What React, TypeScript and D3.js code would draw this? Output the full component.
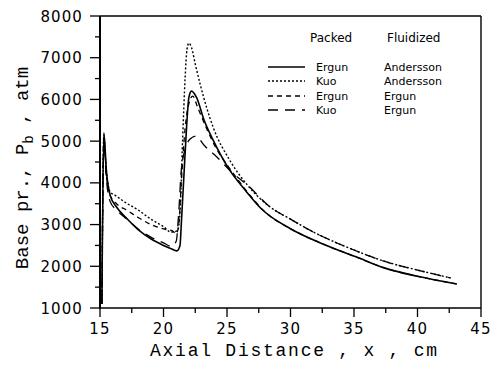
import React from "react";
import * as d3 from "d3";

// values: [axial distance (cm), base pressure (atm)]
const ergunAndersson: [number, number][] = [
  [15.15, 1100], [15.3, 5200], [15.5, 4300], [15.8, 3700], [16.3, 3420], [17, 3180],
  [18, 2880], [19, 2660], [20, 2500], [20.6, 2420], [21.05, 2370], [21.3, 2500],
  [21.4, 3000], [21.7, 4700], [22.0, 6050], [22.2, 6200], [22.6, 6050], [23.2, 5500],
  [23.9, 5030], [25.2, 4310], [26.5, 3800], [27.7, 3380], [30, 2900], [32.5, 2540],
  [35.2, 2220], [37.5, 1950], [40, 1760], [43.1, 1575],
];
const kuoAndersson: [number, number][] = [
  [15.15, 1100], [15.3, 5150], [15.5, 4300], [15.8, 3780], [16.2, 3700], [17, 3530],
  [18, 3350], [19, 3130], [20, 2950], [20.6, 2820], [21.1, 2850], [21.3, 3300],
  [21.5, 5000], [21.7, 6500], [21.85, 7200], [22.0, 7350], [22.2, 7250], [22.5, 6850],
  [22.9, 6350], [23.9, 5340], [25.2, 4550], [26.6, 3950], [28.4, 3420], [30, 3130],
  [31.5, 2870], [35, 2390], [37.5, 2110], [40, 1910], [42.6, 1720],
];
const ergunErgun: [number, number][] = [
  [15.15, 1100], [15.3, 5100], [15.5, 4200], [15.8, 3700], [16.3, 3500], [17.2, 3330],
  [18, 3170], [19.1, 2990], [20.2, 2880], [20.7, 2850], [21.0, 2780], [21.2, 3000],
  [21.4, 4000], [21.7, 5300], [22.0, 5900], [22.3, 6080], [22.7, 5800], [23.4, 5300],
  [24.2, 4800], [25.2, 4350], [26.5, 3820], [28, 3300], [30, 2900], [32.5, 2540],
  [35.2, 2220], [37.5, 1950], [40, 1760], [43.1, 1575],
];
const kuoErgun: [number, number][] = [
  [15.15, 1100], [15.3, 5000], [15.5, 4100], [15.8, 3550], [16.3, 3350], [17.2, 3110],
  [18.1, 2870], [19, 2700], [20, 2560], [20.6, 2480], [21.0, 2600], [21.2, 3300],
  [21.4, 4300], [21.7, 4800], [22.1, 5050], [22.55, 5120], [23.2, 4900], [24.2, 4620],
  [25.4, 4250], [26.6, 3950], [28.4, 3420], [30, 3130], [31.5, 2870], [35, 2390],
  [37.5, 2110], [40, 1910], [42.6, 1720],
];

const packedLabels = ["Ergun", "Kuo", "Ergun", "Kuo"];
const fluidizedLabels = ["Andersson", "Andersson", "Ergun", "Ergun"];
const xTicks = [15, 20, 25, 30, 35, 40, 45];
const yTicks = [1000, 2000, 3000, 4000, 5000, 6000, 7000, 8000];

const series = [
  { data: ergunAndersson, dash: "none", w: 1.6 },
  { data: kuoAndersson, dash: "2,2", w: 1.4 },
  { data: ergunErgun, dash: "5,4", w: 1.3 },
  { data: kuoErgun, dash: "10,7", w: 1.3 },
];

const W = 497;
const H = 366;
const m = { left: 100, right: 481, top: 16, bottom: 308 };

export default function App() {
  const x = d3.scaleLinear().domain([15, 45]).range([m.left, m.right]);
  const y = d3.scaleLinear().domain([1000, 8000]).range([m.bottom, m.top]);
  const line = d3
    .line<[number, number]>()
    .x((d) => x(d[0]))
    .y((d) => y(d[1]))
    .curve(d3.curveMonotoneX);

  const xMinor = d3.range(17.5, 45, 5);
  const yMinor = d3.range(1500, 8000, 1000);
  const tickFont = { fontFamily: "DejaVu Sans", fontSize: 15, letterSpacing: 1.1 };
  const legFont = { fontFamily: "DejaVu Sans", fontSize: 11 };
  const rowY = [67, 81, 96, 110];

  return (
    <svg
      width={W}
      height={H}
      style={{ position: "absolute", left: 0, top: 0, background: "#fff" }}
    >
      {/* frame */}
      <line x1={m.left} x2={m.right} y1={m.top} y2={m.top} stroke="#000" strokeWidth={1.4} />
      <line x1={m.right} x2={m.right} y1={m.top} y2={m.bottom} stroke="#000" strokeWidth={1.4} />
      <line x1={m.left} x2={m.right} y1={m.bottom} y2={m.bottom} stroke="#000" strokeWidth={1.6} />
      <line x1={m.left} x2={m.left} y1={m.top} y2={m.bottom + 1} stroke="#000" strokeWidth={2} />

      {/* x axis */}
      {xTicks.map((t) => (
        <g key={"xt" + t}>
          <line x1={x(t)} x2={x(t)} y1={m.bottom} y2={m.bottom + 9} stroke="#000" strokeWidth={1.3} />
          <text x={x(t)} y={334} textAnchor="middle" {...tickFont}>
            {t}
          </text>
        </g>
      ))}
      {xMinor.map((t) => (
        <line key={"xm" + t} x1={x(t)} x2={x(t)} y1={m.bottom} y2={m.bottom + 5} stroke="#000" strokeWidth={1.3} />
      ))}

      {/* y axis */}
      {yTicks.map((t) => (
        <g key={"yt" + t}>
          <line x1={m.left - 10} x2={m.left} y1={y(t)} y2={y(t)} stroke="#000" strokeWidth={1.3} />
          <text x={83} y={y(t) + 5.5} textAnchor="end" {...tickFont}>
            {t}
          </text>
        </g>
      ))}
      {yMinor.map((t) => (
        <line key={"ym" + t} x1={m.left - 5} x2={m.left} y1={y(t)} y2={y(t)} stroke="#000" strokeWidth={1.3} />
      ))}

      {/* curves */}
      {series.map((s, i) => (
        <path
          key={"s" + i}
          d={line(s.data) || ""}
          fill="none"
          stroke="#000"
          strokeWidth={s.w}
          strokeDasharray={s.dash}
        />
      ))}

      {/* legend */}
      <text x={310} y={42} fontFamily="DejaVu Sans" fontSize={12}>Packed</text>
      <text x={387} y={42} fontFamily="DejaVu Sans" fontSize={12}>Fluidized</text>
      {series.map((s, i) => (
        <g key={"lg" + i}>
          <line
            x1={268}
            x2={305}
            y1={rowY[i]}
            y2={rowY[i]}
            stroke="#000"
            strokeWidth={s.w}
            strokeDasharray={s.dash}
          />
          <text x={316} y={rowY[i] + 4} {...legFont}>{packedLabels[i]}</text>
          <text x={384} y={rowY[i] + 4} {...legFont}>{fluidizedLabels[i]}</text>
        </g>
      ))}

      {/* axis titles */}
      <text
        x={(m.left + m.right) / 2 + 3}
        y={356}
        textAnchor="middle"
        fontFamily="Liberation Mono"
        fontSize={18}
        textLength={287}
      >
        Axial Distance , x , cm
      </text>
      <text
        transform="translate(28,168) rotate(-90)"
        textAnchor="middle"
        fontFamily="Liberation Mono"
        fontSize={19}
      >
        Base pr., P
        <tspan fontSize={14} dy={5}>b</tspan>
        <tspan dy={-5}> , atm</tspan>
      </text>
    </svg>
  );
}
